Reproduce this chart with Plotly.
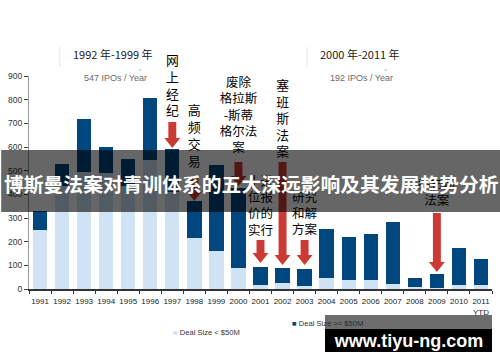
import plotly.graph_objects as go

# ---------------- data ----------------
years = list(range(1991, 2012))
tick_labels = [str(y) for y in years[:-1]] + ["2011<br>YTD"]
small_deals = [250, 435, 495, 490, 435, 545, 410, 215, 160, 88, 15, 25, 12, 48, 40, 38, 22, 7, 4, 15, 15]
large_deals = [80, 93, 222, 108, 113, 263, 180, 155, 365, 339, 80, 65, 72, 204, 178, 194, 260, 41, 59, 157, 110]
y_ticks = [0, 100, 200, 300, 400, 500, 600, 700, 800, 900]

event_years = [1997, 1998, 2000, 2001, 2002, 2003, 2009]
event_texts = ["网上经纪", "高频交易", "废除<br>格拉斯<br>-斯蒂<br>格尔法<br>案", "十进<br>位报<br>价的<br>实行",
               "塞班斯法案", "研究<br>和解<br>方案", "乔布斯<br>法案"]

period_titles = ["1992 年-1999 年", "2000 年-2011 年"]
period_subtitles = ["547 IPOs / Year", "192 IPOs / Year"]
banner_title = "博斯曼法案对青训体系的五大深远影响及其发展趋势分析"
watermark = "www.tiyu-ng.com"

# ---------------- layout geometry (pixels) ----------------
W, H = 500, 362
L, R, T, B = 26, 8, 76, 73
PW, PH = W - L - R, H - T - B
YMAX = 900
X0, X1 = 1990.5, 2011.5


def px_x(px):
    return (px - L) / PW


def px_y(py):
    return (H - B - py) / PH


def val_y(py):
    return (H - B - py) / PH * YMAX


def yr_w(px):
    return px / PW * (X1 - X0)


LIGHT = "#cfe3f5"
DARK = "#00467f"
RED = "#cc3a34"

fig = go.Figure()
fig.add_bar(x=years, y=small_deals, marker_color=LIGHT, marker_line_width=0, name="Deal Size < $50M")
fig.add_bar(x=years, y=large_deals, marker_color=DARK, marker_line_width=0, name="Deal Size >= $50M")

# event labels (vertical Chinese text), centre pixel y of each block
label_centre_px = [87, 137, 116.5, 207, 120, 215, 194]
label_sizes = [12.8, 13, 12.5, 12.5, 12.8, 12.5, 12.5]
vert = [t if "<br>" in t else "<br>".join(list(t)) for t in event_texts]
for yr, txt, cy, fs in zip(event_years, vert, label_centre_px, label_sizes):
    fig.add_trace(go.Scatter(
        x=[yr], y=[val_y(cy)], mode="text", text=[txt],
        textposition="middle center", cliponaxis=False, hoverinfo="skip",
        textfont=dict(family="Noto Sans CJK SC", size=fs, color="#000000"),
        showlegend=False,
    ))

shapes = []
# red arrows: (year, top px, tip px)
arrow_px = [(1997, 122, 148), (1998, 177, 201), (2000, 162, 186), (2001, 240, 263),
            (2002, 162, 265), (2003, 240, 265), (2009, 213, 272)]
sw, hw, hh = yr_w(4), yr_w(8), 10
for yr, top, tip in arrow_px:
    yt, yb, yh = val_y(top), val_y(tip), val_y(tip - hh)
    path = (f"M{yr - sw},{yt} L{yr + sw},{yt} L{yr + sw},{yh} L{yr + hw},{yh} "
            f"L{yr},{yb} L{yr - hw},{yh} L{yr - sw},{yh} Z")
    shapes.append(dict(type="path", path=path, xref="x", yref="y", fillcolor=RED,
                       line=dict(width=0), layer="above"))

# faint decorations near period titles
for xpx, dash_x in [(57, 138), (305.7, 385)]:
    shapes.append(dict(type="line", xref="paper", yref="paper", x0=px_x(xpx), x1=px_x(xpx),
                       y0=px_y(47), y1=px_y(67), line=dict(color="#e4e4e4", width=1), layer="above"))
    shapes.append(dict(type="line", xref="paper", yref="paper", x0=px_x(dash_x - 1), x1=px_x(dash_x + 1),
                       y0=px_y(70), y1=px_y(70), line=dict(color="#aaaaaa", width=1), layer="above"))

# banner
shapes.append(dict(type="rect", xref="paper", yref="paper", x0=px_x(-2), x1=px_x(502),
                   y0=px_y(212), y1=px_y(150), fillcolor="rgba(0,0,0,0.6)",
                   line=dict(width=0), layer="above"))

annotations = []
for title, sub, cx in zip(period_titles, period_subtitles, [111, 359]):
    annotations.append(dict(text=title, xref="paper", yref="paper", x=px_x(cx), y=px_y(54),
                            showarrow=False, xanchor="center", yanchor="middle",
                            font=dict(family="Noto Sans CJK SC", size=11, color="#222222")))
    annotations.append(dict(text=sub, xref="paper", yref="paper", x=px_x(cx + 2), y=px_y(78),
                            showarrow=False, xanchor="center", yanchor="middle",
                            font=dict(family="Liberation Sans", size=9, color="#6a6a6a")))

annotations.append(dict(text=f"<b>{banner_title}</b>", xref="paper", yref="paper",
                        x=px_x(250), y=px_y(183), showarrow=False, xanchor="center", yanchor="middle",
                        borderpad=0,
                        font=dict(family="Noto Sans CJK SC", size=19.8, color="#ffffff")))

# legend as text
annotations.append(dict(text=f"<span style='color:{LIGHT}'>■</span> Deal Size &lt; $50M",
                        xref="paper", yref="paper", x=px_x(169), y=px_y(332), showarrow=False,
                        xanchor="left", yanchor="middle",
                        font=dict(family="Liberation Sans", size=7.6, color="#333333")))
annotations.append(dict(text=f"<span style='color:{DARK}'>■</span> Deal Size &gt;= $50M",
                        xref="paper", yref="paper", x=px_x(289), y=px_y(323), showarrow=False,
                        xanchor="left", yanchor="middle",
                        font=dict(family="Liberation Sans", size=7.6, color="#333333")))

# watermark boxes
annotations.append(dict(text=" ", xref="paper", yref="paper", x=px_x(324), y=px_y(315),
                        xanchor="left", yanchor="top", showarrow=False, width=167, height=14,
                        borderpad=0, borderwidth=0, bgcolor="rgba(40,40,40,0.68)",
                        font=dict(size=8)))
annotations.append(dict(text=f"<b>{watermark}</b>", xref="paper", yref="paper", x=px_x(324), y=px_y(329),
                        xanchor="left", yanchor="top", showarrow=False, width=167, height=23,
                        borderpad=0, borderwidth=0, bgcolor="#000000",
                        font=dict(family="Liberation Sans", size=18, color="#ffffff")))

fig.update_layout(
    width=W, height=H, margin=dict(l=L, r=R, t=T, b=B),
    barmode="stack", bargap=0.35, showlegend=False,
    paper_bgcolor="white", plot_bgcolor="white",
    shapes=shapes, annotations=annotations,
    xaxis=dict(range=[X0, X1], tickmode="array", tickvals=years, ticktext=tick_labels,
               ticks="outside", ticklen=4, tickcolor="rgba(0,0,0,0)",
               minor=dict(tickmode="array", tickvals=[X0 + i for i in range(22)],
                          ticks="outside", ticklen=3, tickcolor="#333333", tickwidth=1),
               showline=True, linecolor="#333333", linewidth=1.5, showgrid=False, zeroline=False,
               layer="below traces",
               tickfont=dict(family="Liberation Sans", size=8, color="#222222")),
    yaxis=dict(range=[0, YMAX], tickmode="array", tickvals=y_ticks,
               ticks="outside", ticklen=4, tickcolor="#444444",
               showline=True, linecolor="#999999", linewidth=1, showgrid=False, zeroline=False,
               tickfont=dict(family="Liberation Sans", size=8.5, color="#333333")),
)

fig.write_html("out.html", config={"displayModeBar": False},
               post_script="document.body.style.margin='0px';")
